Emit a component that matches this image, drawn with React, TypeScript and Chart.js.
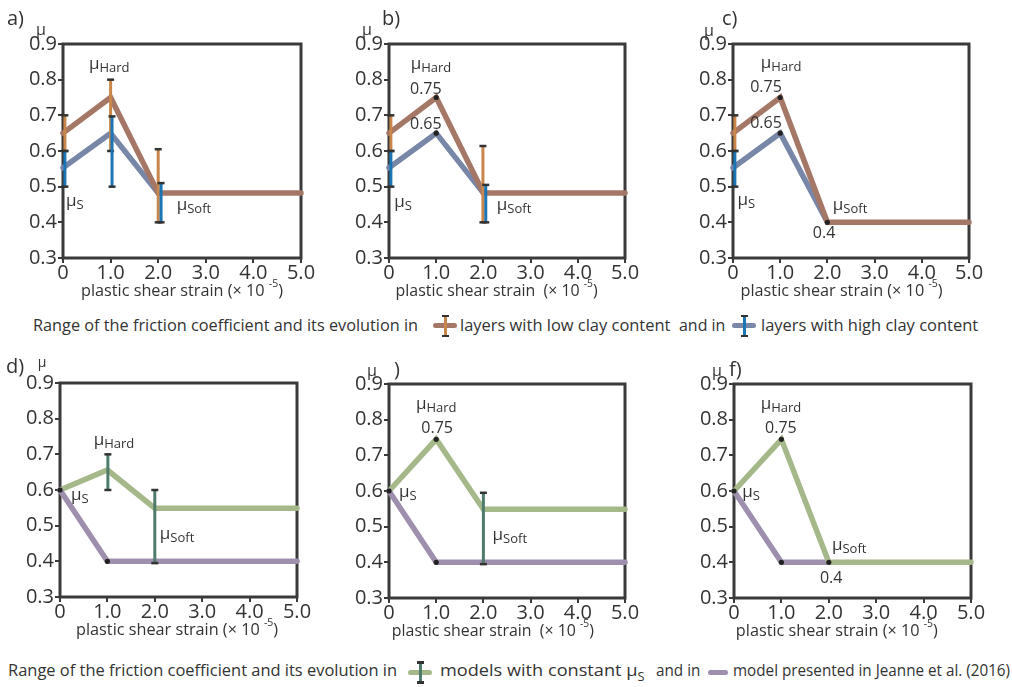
import React, { useEffect, useLayoutEffect, useRef } from 'react';
import { Chart, registerables } from 'chart.js';
Chart.register(...registerables);

const FONT = "'Open Sans', 'Noto Sans', sans-serif";
const TEXT = '#333333';
const BROWN = '#a57766';
const BLUEGREY = '#7886a8';
const ORANGE = '#c8864c';
const BLUE = '#1b75b4';
const GREEN = '#a4b88a';
const PURPLE = '#9d8fad';
const DKGREEN = '#4e7b6c';
const CAP = '#333333';
const FRAME = '#3a3a3a';
const DOT = '#222222';

// ---------- axes ----------
const strainTicks = [0, 1, 2, 3, 4, 5];
const strainTickLabels = ['0', '1.0', '2.0', '3.0', '4.0', '5.0'];
const muTicks = [0.3, 0.4, 0.5, 0.6, 0.7, 0.8, 0.9];
const muTickLabels = ['0.3', '0.4', '0.5', '0.6', '0.7', '0.8', '0.9'];

// ---------- strain positions of line vertices ----------
const strain = [0, 1, 2, 5];
const strainShort = [0, 1, 2];
const strainJeanne = [0, 1, 5];

// ---------- panel a ----------
const aLowClay = [0.65, 0.75, 0.482, 0.482];
const aHighClay = [0.553, 0.65, 0.482];
const aLowBarX = [0.04, 1.0, 2.0];
const aLowBarMin = [0.6, 0.6, 0.4];
const aLowBarMax = [0.7, 0.8, 0.605];
const aHighBarX = [0.04, 1.03, 2.06];
const aHighBarMin = [0.5, 0.5, 0.4];
const aHighBarMax = [0.6, 0.697, 0.51];

// ---------- panel b ----------
const bLowClay = [0.65, 0.75, 0.482, 0.482];
const bHighClay = [0.553, 0.65, 0.482];
const bLowBarX = [0.04, 1.99];
const bLowBarMin = [0.6, 0.4];
const bLowBarMax = [0.7, 0.614];
const bHighBarX = [0.04, 2.05];
const bHighBarMin = [0.5, 0.4];
const bHighBarMax = [0.6, 0.505];
const bDotX = [1, 1];
const bDotY = [0.75, 0.65];

// ---------- panel c ----------
const cLowClay = [0.65, 0.75, 0.4, 0.4];
const cHighClay = [0.553, 0.65, 0.4];
const cLowBarX = [0.04];
const cLowBarMin = [0.6];
const cLowBarMax = [0.7];
const cHighBarX = [0.04];
const cHighBarMin = [0.5];
const cHighBarMax = [0.6];
const cDotX = [1, 1, 2];
const cDotY = [0.75, 0.65, 0.4];

// ---------- panel d ----------
const dConstMuS = [0.6, 0.656, 0.549, 0.549];
const dJeanne = [0.6, 0.4, 0.4];
const dBarX = [1.01, 2.0];
const dBarMin = [0.6, 0.395];
const dBarMax = [0.7, 0.6];
const dDotX = [0, 1];
const dDotY = [0.6, 0.4];

// ---------- panel e ----------
const eConstMuS = [0.6, 0.745, 0.549, 0.549];
const eJeanne = [0.6, 0.4, 0.4];
const eBarX = [2.0];
const eBarMin = [0.395];
const eBarMax = [0.595];
const eDotX = [0, 1, 1];
const eDotY = [0.6, 0.745, 0.4];

// ---------- panel f ----------
const fConstMuS = [0.6, 0.745, 0.4, 0.4];
const fJeanne = [0.6, 0.4, 0.4];
const fDotX = [0, 1, 1, 2];
const fDotY = [0.6, 0.745, 0.4, 0.4];

type Lbl = { x: number; y: number; t: string; sub?: string };

const pts = (xs: number[], ys: number[]) => xs.map((x, i) => ({ x, y: ys[i] }));
const bars = (xs: number[], lo: number[], hi: number[]) =>
  xs.flatMap((x, i) => [{ x, y: lo[i] }, { x, y: hi[i] }, { x, y: null as any }]);

const lineDs = (data: any[], color: string, order: number) => ({
  data, borderColor: color, borderWidth: 5.5, pointRadius: 0, borderJoinStyle: 'miter',
  borderCapStyle: 'round', order, clip: false, tension: 0,
});
const barDs = (data: any[], color: string, order: number) => ({
  data, borderColor: color, borderWidth: 3, pointStyle: 'line', pointRadius: 3.5,
  pointBorderWidth: 2.5, pointBorderColor: CAP, pointBackgroundColor: CAP,
  spanGaps: false, order, clip: false, borderCapStyle: 'butt',
});
const dotDs = (data: any[]) => ({
  data, showLine: false, pointRadius: 2.6, pointBackgroundColor: DOT, pointBorderWidth: 0,
  borderColor: DOT, order: 0, clip: false,
});

type Panel = {
  rect: [number, number, number, number];
  datasets: any[];
  labels: Lbl[];
  titleX: number;
  gap: string;
};

const panels: Panel[] = [
  {
    rect: [63, 44, 301, 258],
    datasets: [
      dotDs([]),
      barDs(bars(aHighBarX, aHighBarMin, aHighBarMax), BLUE, 1),
      barDs(bars(aLowBarX, aLowBarMin, aLowBarMax), ORANGE, 2),
      lineDs(pts(strain, aLowClay), BROWN, 3),
      lineDs(pts(strainShort, aHighClay), BLUEGREY, 4),
    ],
    labels: [
      { x: 0.97, y: 0.838, t: 'μ', sub: 'Hard' },
      { x: 0.25, y: 0.454, t: 'μ', sub: 'S' },
      { x: 2.75, y: 0.443, t: 'μ', sub: 'Soft' },
    ],
    titleX: 2.5, gap: ' ',
  },
  {
    rect: [389, 44, 625, 258],
    datasets: [
      dotDs(pts(bDotX, bDotY)),
      barDs(bars(bHighBarX, bHighBarMin, bHighBarMax), BLUE, 1),
      barDs(bars(bLowBarX, bLowBarMin, bLowBarMax), ORANGE, 2),
      lineDs(pts(strain, bLowClay), BROWN, 3),
      lineDs(pts(strainShort, bHighClay), BLUEGREY, 4),
    ],
    labels: [
      { x: 0.89, y: 0.838, t: 'μ', sub: 'Hard' },
      { x: 0.78, y: 0.773, t: '0.75' },
      { x: 0.78, y: 0.675, t: '0.65' },
      { x: 0.3, y: 0.451, t: 'μ', sub: 'S' },
      { x: 2.65, y: 0.443, t: 'μ', sub: 'Soft' },
    ],
    titleX: 2.28, gap: '  ',
  },
  {
    rect: [733, 44, 969, 258],
    datasets: [
      dotDs(pts(cDotX, cDotY)),
      barDs(bars(cHighBarX, cHighBarMin, cHighBarMax), BLUE, 1),
      barDs(bars(cLowBarX, cLowBarMin, cLowBarMax), ORANGE, 2),
      lineDs(pts(strain, cLowClay), BROWN, 3),
      lineDs(pts(strainShort, cHighClay), BLUEGREY, 4),
    ],
    labels: [
      { x: 1.02, y: 0.84, t: 'μ', sub: 'Hard' },
      { x: 0.7, y: 0.779, t: '0.75' },
      { x: 0.7, y: 0.678, t: '0.65' },
      { x: 0.28, y: 0.457, t: 'μ', sub: 'S' },
      { x: 2.48, y: 0.443, t: 'μ', sub: 'Soft' },
      { x: 1.93, y: 0.37, t: '0.4' },
    ],
    titleX: 2.3, gap: ' ',
  },
  {
    rect: [60, 383, 297, 597],
    datasets: [
      dotDs(pts(dDotX, dDotY)),
      barDs(bars(dBarX, dBarMin, dBarMax), DKGREEN, 1),
      lineDs(pts(strainJeanne, dJeanne), PURPLE, 2),
      lineDs(pts(strain, dConstMuS), GREEN, 3),
    ],
    labels: [
      { x: 1.14, y: 0.734, t: 'μ', sub: 'Hard' },
      { x: 0.42, y: 0.58, t: 'μ', sub: 'S' },
      { x: 2.47, y: 0.471, t: 'μ', sub: 'Soft' },
    ],
    titleX: 2.47, gap: ' ',
  },
  {
    rect: [389, 384, 625, 598],
    datasets: [
      dotDs(pts(eDotX, eDotY)),
      barDs(bars(eBarX, eBarMin, eBarMax), DKGREEN, 1),
      lineDs(pts(strainJeanne, eJeanne), PURPLE, 2),
      lineDs(pts(strain, eConstMuS), GREEN, 3),
    ],
    labels: [
      { x: 1.0, y: 0.838, t: 'μ', sub: 'Hard' },
      { x: 1.02, y: 0.776, t: '0.75' },
      { x: 0.4, y: 0.591, t: 'μ', sub: 'S' },
      { x: 2.56, y: 0.471, t: 'μ', sub: 'Soft' },
    ],
    titleX: 2.2, gap: '  ',
  },
  {
    rect: [734, 384, 971, 598],
    datasets: [
      dotDs(pts(fDotX, fDotY)),
      lineDs(pts(strain, fConstMuS), GREEN, 2),
      lineDs(pts(strainShort, fJeanne), PURPLE, 3),
    ],
    labels: [
      { x: 0.99, y: 0.838, t: 'μ', sub: 'Hard' },
      { x: 0.99, y: 0.776, t: '0.75' },
      { x: 0.36, y: 0.591, t: 'μ', sub: 'S' },
      { x: 2.43, y: 0.443, t: 'μ', sub: 'Soft' },
      { x: 2.05, y: 0.356, t: '0.4' },
    ],
    titleX: 2.17, gap: ' ',
  },
];

const PAD_L = 62, PAD_R = 24, PAD_T = 20, PAD_B = 50;
const TITLE_W = 202;

function PanelChart({ p }: { p: Panel }) {
  const ref = useRef<HTMLCanvasElement>(null);
  const [l, t, r, b] = p.rect;
  const w = r - l + PAD_L + PAD_R;
  const h = b - t + PAD_T + PAD_B;
  useEffect(() => {
    if (!ref.current) return;
    const framePlugin = {
      id: 'frame',
      beforeDatasetsDraw(chart: any) {
        const { ctx, chartArea: a } = chart;
        ctx.save();
        ctx.strokeStyle = FRAME;
        ctx.lineWidth = 3;
        ctx.strokeRect(a.left, a.top, a.right - a.left, a.bottom - a.top);
        ctx.restore();
      },
      afterDatasetsDraw(chart: any) {
        const { ctx, chartArea: a, scales } = chart;
        const xs = scales.x, ys = scales.y;
        ctx.save();
        ctx.fillStyle = TEXT;
        for (const lb of p.labels) {
          const px = xs.getPixelForValue(lb.x);
          const py = ys.getPixelForValue(lb.y);
          if (lb.sub) {
            ctx.font = `17px ${FONT}`;
            const w1 = ctx.measureText(lb.t).width;
            ctx.font = `13px ${FONT}`;
            const w2 = ctx.measureText(lb.sub).width;
            const x0 = px - (w1 + w2) / 2;
            ctx.textAlign = 'left';
            ctx.textBaseline = 'alphabetic';
            ctx.font = `17px ${FONT}`;
            ctx.fillText(lb.t, x0, py + 3);
            ctx.font = `13px ${FONT}`;
            ctx.fillText(lb.sub, x0 + w1, py + 6);
          } else {
            ctx.font = `16px ${FONT}`;
            ctx.textAlign = 'center';
            ctx.textBaseline = 'middle';
            ctx.fillText(lb.t, px, py);
          }
        }
        // axis title
        const main = 'plastic shear strain' + p.gap + '(× 10 ';
        ctx.font = `17px ${FONT}`;
        const m1 = ctx.measureText(main).width;
        const m3 = ctx.measureText(')').width;
        ctx.font = `11px ${FONT}`;
        const m2 = ctx.measureText('-5').width;
        const total = m1 + m2 + m3;
        const cx = xs.getPixelForValue(p.titleX);
        ctx.translate(cx - TITLE_W / 2, a.bottom + 33);
        ctx.scale(TITLE_W / total, 1);
        ctx.textAlign = 'left';
        ctx.textBaseline = 'middle';
        ctx.font = `17px ${FONT}`;
        ctx.fillText(main, 0, 0);
        ctx.font = `11px ${FONT}`;
        ctx.fillText('-5', m1, -7);
        ctx.font = `17px ${FONT}`;
        ctx.fillText(')', m1 + m2, 0);
        ctx.restore();
      },
    };
    const chart = new Chart(ref.current, {
      type: 'line',
      data: { datasets: p.datasets as any },
      options: {
        responsive: false,
        animation: false,
        events: [],
        layout: { padding: { left: 0, top: PAD_T, right: PAD_R, bottom: 0 } },
        plugins: { legend: { display: false }, tooltip: { enabled: false } },
        scales: {
          x: {
            type: 'linear', min: 0, max: 5,
            afterFit: (s: any) => { s.height = PAD_B; },
            afterBuildTicks: (s: any) => { s.ticks = strainTicks.map((v) => ({ value: v })); },
            ticks: {
              callback: (_v: any, i: number) => strainTickLabels[i],
              font: { size: 20, family: FONT }, color: TEXT, padding: -2,
              maxRotation: 0, autoSkip: false,
            },
            grid: { drawOnChartArea: false, drawTicks: true, tickLength: 5, color: FRAME, lineWidth: 2 },
            border: { display: false },
          },
          y: {
            type: 'linear', min: 0.3, max: 0.9,
            afterFit: (s: any) => { s.width = PAD_L; },
            afterBuildTicks: (s: any) => { s.ticks = muTicks.map((v) => ({ value: v })); },
            ticks: {
              callback: (_v: any, i: number) => muTickLabels[i],
              font: { size: 20, family: FONT }, color: TEXT, padding: 1, autoSkip: false,
            },
            grid: { drawOnChartArea: false, drawTicks: true, tickLength: 5, color: FRAME, lineWidth: 2 },
            border: { display: false },
          },
        },
      } as any,
      plugins: [framePlugin],
    });
    return () => chart.destroy();
  }, []);
  return (
    <canvas
      ref={ref}
      width={w}
      height={h}
      style={{ position: 'absolute', left: l - PAD_L, top: t - PAD_T, width: w, height: h }}
    />
  );
}

function FitText({ x, cy, w, size = 17, children }: any) {
  const ref = useRef<HTMLSpanElement>(null);
  useLayoutEffect(() => {
    const el = ref.current;
    if (!el) return;
    el.style.transform = 'none';
    const nat = el.offsetWidth;
    if (nat > 0) el.style.transform = `scaleX(${w / nat})`;
  }, [w]);
  return (
    <span
      ref={ref}
      style={{
        position: 'absolute', left: x, top: cy - 12, lineHeight: '24px', fontSize: size,
        fontFamily: FONT, color: TEXT, whiteSpace: 'nowrap', transformOrigin: '0 50%',
      }}
    >
      {children}
    </span>
  );
}

function Icon({ x, cy, w, line, bar }: any) {
  const cx = x + w / 2;
  return (
    <>
      <div style={{ position: 'absolute', left: x, top: cy - 2.5, width: w, height: 5, borderRadius: 2.5, background: line }} />
      {bar && (
        <>
          <div style={{ position: 'absolute', left: cx - 1.5, top: cy - 10, width: 3, height: 20, background: bar }} />
          <div style={{ position: 'absolute', left: cx - 3.5, top: cy - 11, width: 7, height: 2.5, background: CAP }} />
          <div style={{ position: 'absolute', left: cx - 3.5, top: cy + 9, width: 7, height: 2.5, background: CAP }} />
        </>
      )}
    </>
  );
}

function Tag({ x, cy, size = 17, center = false, children }: any) {
  return (
    <div
      style={{
        position: 'absolute', left: x, top: cy - 12, lineHeight: '24px', fontSize: size,
        fontFamily: FONT, color: TEXT, whiteSpace: 'nowrap',
        transform: center ? 'translateX(-50%)' : undefined,
      }}
    >
      {children}
    </div>
  );
}

const legendIntro = 'Range of the friction coefficient and its evolution in';

export default function App() {
  return (
    <div style={{ position: 'absolute', left: 0, top: 0, width: 1012, height: 687, background: '#fff', overflow: 'hidden' }}>
      {panels.map((p, i) => (
        <PanelChart key={i} p={p} />
      ))}
      {/* panel letters and axis symbol */}
      <Tag x={7} cy={18} size={20}>a)</Tag>
      <Tag x={41} cy={29} size={16} center>μ</Tag>
      <Tag x={382} cy={18} size={20}>b)</Tag>
      <Tag x={367} cy={29} size={16} center>μ</Tag>
      <Tag x={722} cy={18} size={20}>c)</Tag>
      <Tag x={709} cy={30} size={16} center>μ</Tag>
      <Tag x={6} cy={366} size={20}>d)</Tag>
      <Tag x={42} cy={362} size={14} center>μ</Tag>
      <Tag x={394} cy={369} size={20}>)</Tag>
      <Tag x={372} cy={370} size={16} center>μ</Tag>
      <Tag x={729} cy={369} size={20}>f)</Tag>
      <Tag x={717} cy={370} size={16} center>μ</Tag>

      {/* legend row 1 */}
      <FitText x={33} cy={325} w={385}>{legendIntro}</FitText>
      <Icon x={433} cy={325.5} w={24} line={BROWN} bar={ORANGE} />
      <FitText x={460} cy={325} w={210}>layers with low clay content</FitText>
      <FitText x={679} cy={325} w={46}>and in</FitText>
      <Icon x={732} cy={325.5} w={24} line={BLUEGREY} bar={BLUE} />
      <FitText x={761} cy={325} w={217}>layers with high clay content</FitText>

      {/* legend row 2 */}
      <FitText x={8} cy={670} w={389}>{legendIntro}</FitText>
      <Icon x={408} cy={672} w={24} line={GREEN} bar={DKGREEN} />
      <FitText x={440} cy={670} w={205}>
        models with constant μ<span style={{ fontSize: 12, position: 'relative', top: 5 }}>S</span>
      </FitText>
      <FitText x={656} cy={670} w={44}>and in</FitText>
      <Icon x={708} cy={672} w={20} line={PURPLE} />
      <FitText x={733} cy={670} w={277}>model presented in Jeanne et al. (2016)</FitText>
    </div>
  );
}
